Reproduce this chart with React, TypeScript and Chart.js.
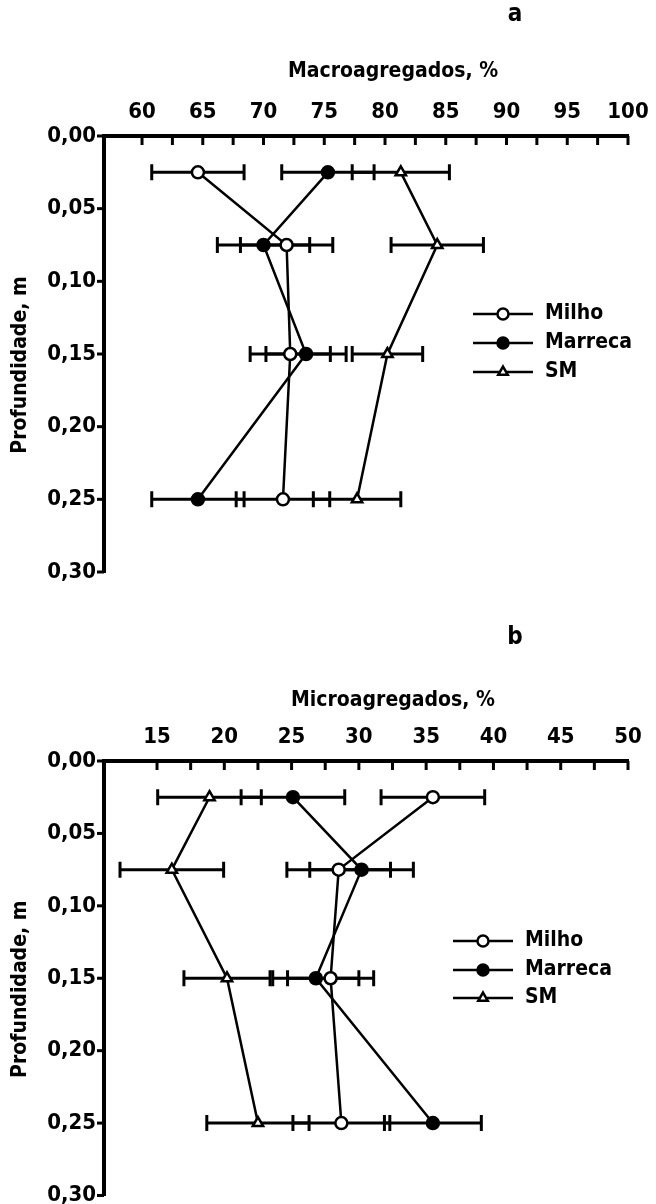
import React, { useEffect, useRef } from "react";
import { Chart, registerables } from "chart.js";
import { drawPoint } from "chart.js/helpers";

Chart.register(...registerables);

// ---------- data ----------
const depths = [0.025, 0.075, 0.15, 0.25];
const seriesNames = ["Milho", "Marreca", "SM"];

const depthTicks = [0, 0.05, 0.1, 0.15, 0.2, 0.25, 0.3];
const depthTickLabels = ["0,00", "0,05", "0,10", "0,15", "0,20", "0,25", "0,30"];
const depthTitle = "Profundidade, m";

// (a) Macroagregados, %
const macroMilho = [64.6, 71.9, 72.2, 71.6];
const macroMarreca = [75.3, 70.0, 73.5, 64.6];
const macroSM = [81.3, 84.3, 80.2, 77.7];
const macroMilhoErr = [3.8, 3.8, 3.3, 3.85];
const macroMarrecaErr = [3.8, 3.8, 3.3, 3.8];
const macroSMErr = [4.0, 3.8, 2.9, 3.6];
const macroMajorTicks = [60, 65, 70, 75, 80, 85, 90, 95, 100];
const macroMajorLabels = ["60", "65", "70", "75", "80", "85", "90", "95", "100"];
const macroMinorTicks = [62.5, 67.5, 72.5, 77.5, 82.5, 87.5, 92.5, 97.5];

// (b) Microagregados, %
const microMilho = [35.5, 28.5, 27.9, 28.7];
const microMarreca = [25.1, 30.2, 26.8, 35.5];
const microSM = [18.9, 16.1, 20.2, 22.5];
const microMilhoErr = [3.85, 3.85, 3.2, 3.6];
const microMarrecaErr = [3.85, 3.85, 3.2, 3.6];
const microSMErr = [3.85, 3.85, 3.2, 3.8];
const microMajorTicks = [15, 20, 25, 30, 35, 40, 45, 50];
const microMajorLabels = ["15", "20", "25", "30", "35", "40", "45", "50"];
const microMinorTicks = [17.5, 22.5, 27.5, 32.5, 37.5, 42.5, 47.5];

// ---------- styles / layout ----------
const FONT_FAMILY =
  '"Liberation Sans Narrow", "DejaVu Sans Condensed", "Liberation Sans", Arial, sans-serif';
const TICK_FONT = { family: FONT_FAMILY, size: 22, weight: "bold" as const };
const TITLE_SIZE = 21;
const LEGEND_SIZE = 21;
const LETTER_SIZE = 24;

const seriesStyles = [
  { pointStyle: "circle", fill: "#ffffff" },
  { pointStyle: "circle", fill: "#000000" },
  { pointStyle: "triangle", fill: "#ffffff" },
];

type PanelSpec = {
  letter: string;
  title: string;
  xMin: number;
  xMax: number;
  majors: number[];
  majorLabels: string[];
  minors: number[];
  values: number[][];
  errors: number[][];
  height: number;
  axisTop: number;
  plotBottom: number;
  plotLeft: number;
  plotRight: number;
  letterY: number;
  titleCenter: number;
  tickCenter: number;
  legendX: number;
  legendRows: number[];
};

const panelA: PanelSpec = {
  letter: "a",
  title: "Macroagregados, %",
  xMin: 56.87,
  xMax: 100,
  majors: macroMajorTicks,
  majorLabels: macroMajorLabels,
  minors: macroMinorTicks,
  values: [macroMilho, macroMarreca, macroSM],
  errors: [macroMilhoErr, macroMarrecaErr, macroSMErr],
  height: 602,
  axisTop: 136,
  plotBottom: 572,
  plotLeft: 104,
  plotRight: 628,
  letterY: 15,
  titleCenter: 72,
  tickCenter: 112,
  legendX: 473,
  legendRows: [178, 207, 236],
};

const panelB: PanelSpec = {
  letter: "b",
  title: "Microagregados, %",
  xMin: 11.06,
  xMax: 50,
  majors: microMajorTicks,
  majorLabels: microMajorLabels,
  minors: microMinorTicks,
  values: [microMilho, microMarreca, microSM],
  errors: [microMilhoErr, microMarrecaErr, microSMErr],
  height: 602,
  axisTop: 159,
  plotBottom: 595,
  plotLeft: 104,
  plotRight: 628,
  letterY: 36,
  titleCenter: 99,
  tickCenter: 135,
  legendX: 453,
  legendRows: [180, 209, 237],
};

function makeChart(canvas: HTMLCanvasElement, spec: PanelSpec) {
  const tickLH = TICK_FONT.size * 1.2;

  const decor = {
    id: "decor",
    beforeDatasetsDraw(chart: any) {
      const { ctx } = chart;
      const xs = chart.scales.x;
      const ys = chart.scales.y;
      ctx.save();
      ctx.strokeStyle = "#000";
      ctx.lineWidth = 3;
      chart.data.datasets.forEach((ds: any) => {
        ds.data.forEach((pt: any, i: number) => {
          const err = ds.errors[i];
          const xl = xs.getPixelForValue(pt.x - err);
          const xr = xs.getPixelForValue(pt.x + err);
          const y = ys.getPixelForValue(pt.y);
          ctx.beginPath();
          ctx.moveTo(xl, y);
          ctx.lineTo(xr, y);
          ctx.moveTo(xl, y - 8);
          ctx.lineTo(xl, y + 8);
          ctx.moveTo(xr, y - 8);
          ctx.lineTo(xr, y + 8);
          ctx.stroke();
        });
      });
      ctx.restore();
    },
    afterDraw(chart: any) {
      const { ctx, chartArea } = chart;
      const xs = chart.scales.x;
      const ys = chart.scales.y;
      ctx.save();
      ctx.strokeStyle = "#000";
      ctx.fillStyle = "#000";
      // x ticks (inward)
      ctx.lineWidth = 3;
      [...spec.majors, ...spec.minors].forEach((v) => {
        const px = xs.getPixelForValue(v);
        ctx.beginPath();
        ctx.moveTo(px, chartArea.top);
        ctx.lineTo(px, chartArea.top + 9);
        ctx.stroke();
      });
      // y ticks (outward)
      depthTicks.forEach((v) => {
        const py = ys.getPixelForValue(v);
        ctx.beginPath();
        ctx.moveTo(chartArea.left, py);
        ctx.lineTo(chartArea.left - 7, py);
        ctx.stroke();
      });
      // axis titles
      ctx.font = `bold ${TITLE_SIZE}px ${FONT_FAMILY}`;
      ctx.textAlign = "center";
      ctx.textBaseline = "middle";
      ctx.fillText(spec.title, 393, spec.titleCenter);
      ctx.save();
      ctx.translate(21, (chartArea.top + chartArea.bottom) / 2 + 11);
      ctx.rotate(-Math.PI / 2);
      ctx.fillText(depthTitle, 0, 0);
      ctx.restore();
      // panel letter
      ctx.font = `bold ${LETTER_SIZE}px ${FONT_FAMILY}`;
      ctx.fillText(spec.letter, 515, spec.letterY);
      // legend
      ctx.font = `bold ${LEGEND_SIZE}px ${FONT_FAMILY}`;
      chart.data.datasets.forEach((ds: any, i: number) => {
        const y = chartArea.top + spec.legendRows[i];
        const x0 = spec.legendX;
        ctx.lineWidth = 2.5;
        ctx.strokeStyle = "#000";
        ctx.beginPath();
        ctx.moveTo(x0, y);
        ctx.lineTo(x0 + 60, y);
        ctx.stroke();
        ctx.fillStyle = ds.pointBackgroundColor;
        ctx.strokeStyle = "#000";
        drawPoint(
          ctx,
          { pointStyle: ds.pointStyle, radius: 5.5, rotation: 0, borderWidth: 2.5 },
          x0 + 30,
          y
        );
        ctx.fillStyle = "#000";
        ctx.textAlign = "left";
        ctx.textBaseline = "middle";
        ctx.fillText(ds.label, x0 + 72, y);
      });
      ctx.restore();
    },
  };

  return new Chart(canvas, {
    type: "scatter",
    data: {
      datasets: seriesNames.map((name, si) => ({
        label: name,
        data: depths.map((d, i) => ({ x: spec.values[si][i], y: d })),
        errors: spec.errors[si],
        showLine: true,
        borderColor: "#000",
        borderWidth: 2.5,
        pointStyle: seriesStyles[si].pointStyle,
        pointRadius: 6,
        pointBackgroundColor: seriesStyles[si].fill,
        pointBorderColor: "#000",
        pointBorderWidth: 2.5,
        clip: false,
      })) as any,
    },
    options: {
      responsive: false,
      maintainAspectRatio: false,
      devicePixelRatio: 1,
      animation: false,
      events: [],
      layout: {
        padding: {
          top: 0,
          left: 0,
          right: 656 - spec.plotRight,
          bottom: spec.height - spec.plotBottom,
        },
      },
      plugins: {
        legend: { display: false },
        tooltip: { enabled: false },
        title: { display: false },
      },
      scales: {
        x: {
          type: "linear",
          position: "top",
          min: spec.xMin,
          max: spec.xMax,
          afterBuildTicks: (s: any) => {
            s.ticks = spec.majors.map((v) => ({ value: v }));
          },
          ticks: {
            callback: (_v: any, i: number) => spec.majorLabels[i],
            font: TICK_FONT,
            color: "#000",
            padding: spec.axisTop - spec.tickCenter - tickLH / 2,
            autoSkip: false,
            maxRotation: 0,
          },
          grid: { display: false, drawTicks: false },
          border: { display: true, width: 4, color: "#000" },
          title: { display: false },
          afterFit: (s: any) => {
            s.height = spec.axisTop;
            s.paddingLeft = 0;
            s.paddingRight = 0;
          },
        },
        y: {
          type: "linear",
          position: "left",
          reverse: true,
          min: 0,
          max: 0.3,
          afterBuildTicks: (s: any) => {
            s.ticks = depthTicks.map((v) => ({ value: v }));
          },
          ticks: {
            callback: (_v: any, i: number) => depthTickLabels[i],
            font: TICK_FONT,
            color: "#000",
            padding: 8,
            autoSkip: false,
          },
          grid: { display: false, drawTicks: false },
          border: { display: true, width: 4, color: "#000" },
          title: { display: false },
          afterFit: (s: any) => {
            s.width = spec.plotLeft;
            s.paddingTop = 0;
            s.paddingBottom = 0;
          },
        },
      },
    } as any,
    plugins: [decor],
  });
}

export default function App() {
  const refA = useRef<HTMLCanvasElement>(null);
  const refB = useRef<HTMLCanvasElement>(null);

  useEffect(() => {
    const a = makeChart(refA.current!, panelA);
    const b = makeChart(refB.current!, panelB);
    return () => {
      a.destroy();
      b.destroy();
    };
  }, []);

  return (
    <div
      style={{
        position: "absolute",
        left: 0,
        top: 0,
        width: 656,
        height: 1204,
        background: "#fff",
        overflow: "hidden",
      }}
    >
      <canvas
        ref={refA}
        width={656}
        height={602}
        style={{ position: "absolute", left: 0, top: 0, width: 656, height: 602 }}
      />
      <canvas
        ref={refB}
        width={656}
        height={602}
        style={{ position: "absolute", left: 0, top: 602, width: 656, height: 602 }}
      />
    </div>
  );
}
